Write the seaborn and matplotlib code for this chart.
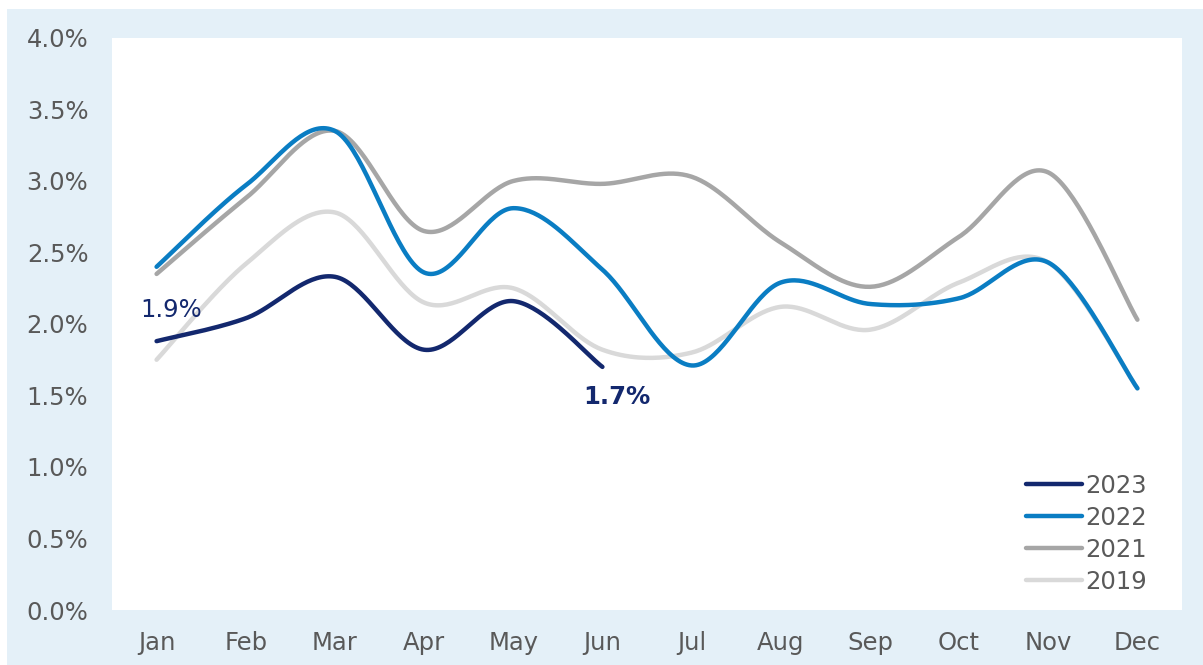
import numpy as np
import pandas as pd
import seaborn as sns
import matplotlib
matplotlib.use("Agg")
import matplotlib.pyplot as plt
from matplotlib.patches import Rectangle

# Dados (variação mensal, em fração)
meses = ["Jan", "Feb", "Mar", "Apr", "May", "Jun", "Jul", "Aug", "Sep", "Oct", "Nov", "Dec"]
v2023 = [0.0188, 0.0204, 0.0233, 0.0182, 0.0216, 0.0170]
v2022 = [0.0240, 0.0297, 0.0335, 0.0236, 0.0281, 0.0238, 0.0171, 0.0229, 0.0214, 0.0218, 0.0243, 0.0155]
v2021 = [0.0235, 0.0288, 0.0335, 0.0265, 0.0300, 0.0298, 0.0303, 0.0257, 0.0226, 0.0261, 0.0306, 0.0203]
v2019 = [0.0175, 0.0242, 0.0278, 0.0215, 0.0225, 0.0182, 0.0180, 0.0212, 0.0196, 0.0229, 0.0243, 0.0155]

series = {"2023": v2023, "2022": v2022, "2021": v2021, "2019": v2019}
cores = {"2023": "#13286e", "2022": "#0a7dc3", "2021": "#a6a6a6", "2019": "#d9d9d9"}


# Linha suavizada (estilo "smoothed line" do Excel: Catmull-Rom)
def suavizar(y, n=40):
    y = np.asarray(y, dtype=float)
    x = np.arange(len(y), dtype=float)
    p = np.column_stack([x, y])
    p = np.vstack([p[0], p, p[-1]])
    pts = []
    for i in range(1, len(p) - 2):
        p0, p1, p2, p3 = p[i - 1], p[i], p[i + 1], p[i + 2]
        c1 = p1 + (p2 - p0) / 6
        c2 = p2 - (p3 - p1) / 6
        t = np.linspace(0, 1, n)[:, None]
        b = (1 - t) ** 3 * p1 + 3 * (1 - t) ** 2 * t * c1 + 3 * (1 - t) * t ** 2 * c2 + t ** 3 * p2
        pts.append(b if i == 1 else b[1:])
    return np.vstack(pts)


linhas = []
for ano, vals in series.items():
    xy = suavizar(vals)
    linhas.append(pd.DataFrame({"x": xy[:, 0], "y": xy[:, 1], "ano": ano}))
df = pd.concat(linhas, ignore_index=True)

plt.rcParams['font.family'] = ['DejaVu Sans']
fs = 17.5
fig = plt.figure(figsize=(12.03, 6.65), dpi=100, facecolor="white")
fig.patches.append(Rectangle((7 / 1203, 0), 1, (665 - 9) / 665, transform=fig.transFigure,
                             facecolor="#e4f0f8", edgecolor="none", zorder=-10))
ax = fig.add_axes([112 / 1203, 1 - 610 / 665, (1182 - 112) / 1203, (610 - 38) / 665])
ax.set_facecolor("white")

# desenha do mais antigo para o mais recente (2023 por cima)
for ano in ["2019", "2021", "2022", "2023"]:
    sub = df[df["ano"] == ano]
    sns.lineplot(data=sub, x="x", y="y", ax=ax, color=cores[ano], linewidth=3.2,
                 sort=False, estimator=None, label=ano, solid_capstyle="round")

ax.set_xlim(-0.5, 11.5)
ax.set_ylim(0, 0.04)
ax.set_xticks(range(12))
ax.set_xticklabels(meses)
ax.set_yticks(np.arange(0, 0.0401, 0.005))
ax.set_yticklabels([f"{v * 100:.1f}%" for v in np.arange(0, 0.0401, 0.005)])
ax.tick_params(axis="both", length=0, labelsize=fs, labelcolor="#595959")
ax.tick_params(axis="y", pad=17)
ax.tick_params(axis="x", pad=15)
ax.set_xlabel("")
ax.set_ylabel("")
for s in ax.spines.values():
    s.set_visible(False)

# Rótulos de dados
ax.annotate("1.9%", (0, v2023[0]), xytext=(-11.5, 22.5), textcoords="offset points",
            color="#13286e", fontsize=fs, ha="left", va="center")
ax.annotate("1.7%", (5, v2023[5]), xytext=(10.5, -22), textcoords="offset points",
            color="#13286e", fontsize=fs, fontweight="bold", ha="center", va="center")

# Legenda na ordem 2023, 2022, 2021, 2019
h, l = ax.get_legend_handles_labels()
ordem = ["2023", "2022", "2021", "2019"]
h = [h[l.index(o)] for o in ordem]
leg = ax.legend(h, ordem, loc="lower right", frameon=False, fontsize=fs,
                handlelength=2.3, handletextpad=0.15, labelspacing=0.33,
                bbox_to_anchor=(0.988, -0.01))
for t in leg.get_texts():
    t.set_color("#595959")

fig.savefig("out.png", dpi=100, facecolor=fig.get_facecolor())
